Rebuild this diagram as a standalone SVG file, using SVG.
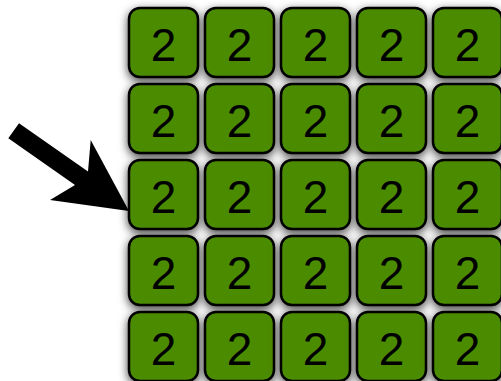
<svg xmlns="http://www.w3.org/2000/svg" width="501" height="381" viewBox="0 0 501 381">
<defs>
<filter id="sh" x="-40%" y="-40%" width="180%" height="180%">
<feDropShadow dx="0" dy="3" stdDeviation="5" flood-color="#000" flood-opacity="0.75"/>
</filter>
<style>
.t rect{fill:#4b8b00;stroke:#000;stroke-width:2.5;filter:url(#sh)}
.t text{font-family:"Liberation Sans",Arial,sans-serif;font-size:46px;fill:#000;text-anchor:middle}
</style>
</defs>
<g id="r0c0" class="t" transform="translate(129,8)"><rect x="0" y="0" width="69" height="69" rx="11"/><text x="34.5" y="53">2</text></g>
<g id="r0c1" class="t" transform="translate(205,8)"><rect x="0" y="0" width="69" height="69" rx="11"/><text x="34.5" y="53">2</text></g>
<g id="r0c2" class="t" transform="translate(281,8)"><rect x="0" y="0" width="69" height="69" rx="11"/><text x="34.5" y="53">2</text></g>
<g id="r0c3" class="t" transform="translate(357,8)"><rect x="0" y="0" width="69" height="69" rx="11"/><text x="34.5" y="53">2</text></g>
<g id="r0c4" class="t" transform="translate(433,8)"><rect x="0" y="0" width="69" height="69" rx="11"/><text x="34.5" y="53">2</text></g>
<g id="r1c0" class="t" transform="translate(129,84)"><rect x="0" y="0" width="69" height="69" rx="11"/><text x="34.5" y="53">2</text></g>
<g id="r1c1" class="t" transform="translate(205,84)"><rect x="0" y="0" width="69" height="69" rx="11"/><text x="34.5" y="53">2</text></g>
<g id="r1c2" class="t" transform="translate(281,84)"><rect x="0" y="0" width="69" height="69" rx="11"/><text x="34.5" y="53">2</text></g>
<g id="r1c3" class="t" transform="translate(357,84)"><rect x="0" y="0" width="69" height="69" rx="11"/><text x="34.5" y="53">2</text></g>
<g id="r1c4" class="t" transform="translate(433,84)"><rect x="0" y="0" width="69" height="69" rx="11"/><text x="34.5" y="53">2</text></g>
<g id="r2c0" class="t" transform="translate(129,160)"><rect x="0" y="0" width="69" height="69" rx="11"/><text x="34.5" y="53">2</text></g>
<g id="r2c1" class="t" transform="translate(205,160)"><rect x="0" y="0" width="69" height="69" rx="11"/><text x="34.5" y="53">2</text></g>
<g id="r2c2" class="t" transform="translate(281,160)"><rect x="0" y="0" width="69" height="69" rx="11"/><text x="34.5" y="53">2</text></g>
<g id="r2c3" class="t" transform="translate(357,160)"><rect x="0" y="0" width="69" height="69" rx="11"/><text x="34.5" y="53">2</text></g>
<g id="r2c4" class="t" transform="translate(433,160)"><rect x="0" y="0" width="69" height="69" rx="11"/><text x="34.5" y="53">2</text></g>
<g id="r3c0" class="t" transform="translate(129,236)"><rect x="0" y="0" width="69" height="69" rx="11"/><text x="34.5" y="53">2</text></g>
<g id="r3c1" class="t" transform="translate(205,236)"><rect x="0" y="0" width="69" height="69" rx="11"/><text x="34.5" y="53">2</text></g>
<g id="r3c2" class="t" transform="translate(281,236)"><rect x="0" y="0" width="69" height="69" rx="11"/><text x="34.5" y="53">2</text></g>
<g id="r3c3" class="t" transform="translate(357,236)"><rect x="0" y="0" width="69" height="69" rx="11"/><text x="34.5" y="53">2</text></g>
<g id="r3c4" class="t" transform="translate(433,236)"><rect x="0" y="0" width="69" height="69" rx="11"/><text x="34.5" y="53">2</text></g>
<g id="r4c0" class="t" transform="translate(129,312)"><rect x="0" y="0" width="69" height="69" rx="11"/><text x="34.5" y="53">2</text></g>
<g id="r4c1" class="t" transform="translate(205,312)"><rect x="0" y="0" width="69" height="69" rx="11"/><text x="34.5" y="53">2</text></g>
<g id="r4c2" class="t" transform="translate(281,312)"><rect x="0" y="0" width="69" height="69" rx="11"/><text x="34.5" y="53">2</text></g>
<g id="r4c3" class="t" transform="translate(357,312)"><rect x="0" y="0" width="69" height="69" rx="11"/><text x="34.5" y="53">2</text></g>
<g id="r4c4" class="t" transform="translate(433,312)"><rect x="0" y="0" width="69" height="69" rx="11"/><text x="34.5" y="53">2</text></g>
<g id="connectors">
<polygon points="19,123.3 88,171.5 90.7,140 129,211 50,200 75,185 8.3,138.3" fill="#000"/>
</g>
</svg>
